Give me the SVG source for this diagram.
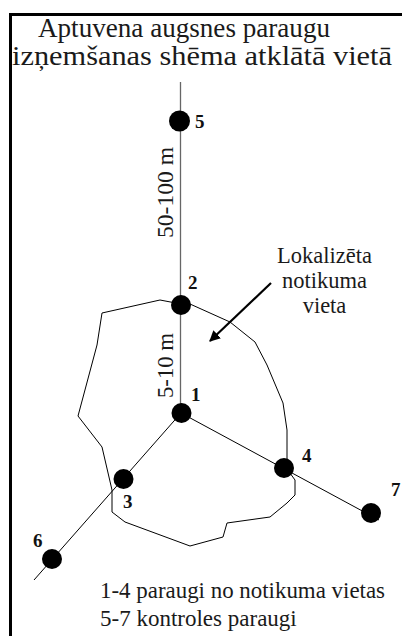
<svg xmlns="http://www.w3.org/2000/svg" width="402" height="636" viewBox="0 0 402 636">
<defs>
<style>
.txt{font-family:'Liberation Serif',serif;fill:#1a1a1a}
.num{font-family:'Liberation Serif',serif;font-weight:bold;font-size:19px;fill:#111}
.ln{stroke:#000;stroke-width:1;fill:none}
.node{fill:#000}
</style>
<marker id="ah" viewBox="0 0 10 10" refX="9" refY="5" markerWidth="5" markerHeight="5" orient="auto" markerUnits="strokeWidth">
<path d="M0,0 L10,5 L0,10 z" fill="#000"/>
</marker>
</defs>
<rect width="402" height="636" fill="#fff"/>
<g id="frame">
<line x1="9" y1="14.5" x2="402" y2="14.5" stroke="#000" stroke-width="3"/>
<line x1="10.5" y1="13" x2="10.5" y2="636" stroke="#000" stroke-width="3"/>
</g>
<g id="title">
<text class="txt" font-size="28" x="38" y="37" textLength="292" lengthAdjust="spacingAndGlyphs">Aptuvena augsnes paraugu</text>
<text class="txt" font-size="28" x="12" y="65" textLength="380" lengthAdjust="spacingAndGlyphs">izņemšanas shēma atklātā vietā</text>
</g>
<g id="site">
<polygon class="ln" points="102,313 160,300 181,304 190,304 230,322 255,342 267,365 283,403 287,430 287,469 295,480 295,495 287,503 270,517 227,523 223,537 190,546 125,522 112,512 112,490 102,447 78,416 97,345"/>
</g>
<g id="connectors">
<line x1="180.5" y1="82" x2="180.5" y2="413" stroke="#666" stroke-width="1.3"/>
<line class="ln" x1="181" y1="413" x2="34" y2="580"/>
<line class="ln" x1="181" y1="413" x2="379" y2="520"/>
<line x1="271" y1="283" x2="210" y2="341" stroke="#000" stroke-width="2.2" marker-end="url(#ah)"/>
</g>
<g id="n5"><circle class="node" cx="179.5" cy="121" r="10.5"/><text class="num" x="195" y="128">5</text></g>
<g id="n2"><circle class="node" cx="181" cy="305" r="10"/><text class="num" x="188" y="289">2</text></g>
<g id="n1"><circle class="node" cx="181.5" cy="413" r="10"/><text class="num" x="191" y="401">1</text></g>
<g id="n3"><circle class="node" cx="123.5" cy="479" r="10"/><text class="num" x="123" y="508">3</text></g>
<g id="n4"><circle class="node" cx="284" cy="468" r="10"/><text class="num" x="302" y="462">4</text></g>
<g id="n7"><circle class="node" cx="371" cy="513" r="10"/><text class="num" x="391" y="496">7</text></g>
<g id="n6"><circle class="node" cx="52" cy="559" r="10"/><text class="num" x="33" y="547">6</text></g>
<g id="dist-labels">
<text class="txt" font-size="23" transform="translate(173,238) rotate(-90)" textLength="91" lengthAdjust="spacingAndGlyphs">50-100 m</text>
<text class="txt" font-size="23" transform="translate(173,398) rotate(-90)" textLength="65" lengthAdjust="spacingAndGlyphs">5-10 m</text>
</g>
<g id="site-label">
<text class="txt" font-size="22.5" text-anchor="middle" x="324.5" y="263">Lokalizēta</text>
<text class="txt" font-size="22.5" text-anchor="middle" x="324.5" y="288">notikuma</text>
<text class="txt" font-size="22.5" text-anchor="middle" x="324.5" y="313">vieta</text>
</g>
<g id="legend">
<text class="txt" font-size="23" x="100" y="598" textLength="285" lengthAdjust="spacingAndGlyphs">1-4 paraugi no notikuma vietas</text>
<text class="txt" font-size="23" x="100" y="626">5-7 kontroles paraugi</text>
</g>
</svg>
